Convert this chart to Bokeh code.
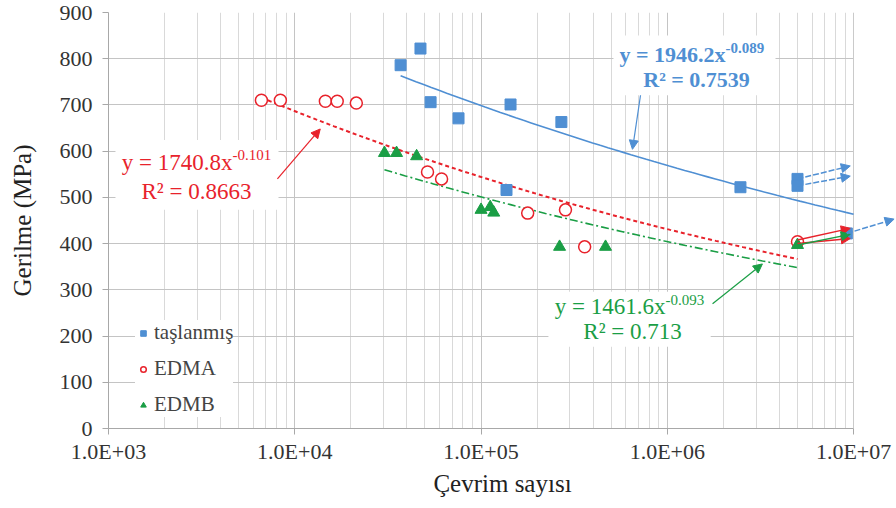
import numpy as np
from bokeh.plotting import figure
from bokeh.models import (FixedTicker, Arrow, NormalHead, Label, BoxAnnotation,
                          Legend, LegendItem, Range1d)
from bokeh.embed import file_html
from bokeh.resources import INLINE

# ---------------- data ----------------
x_ticks = [1e3, 1e4, 1e5, 1e6, 1e7]
x_tick_labels = ["1.0E+03", "1.0E+04", "1.0E+05", "1.0E+06", "1.0E+07"]
y_ticks = [0, 100, 200, 300, 400, 500, 600, 700, 800, 900]

tas_N = [37000, 47300, 53600, 75700, 144000, 270000, 137000, 2470000, 5000000, 5000000, 9200000]
tas_S = [786, 822, 706, 671, 701, 663, 516, 522, 540, 525, 422]

edma_N = [6620, 8370, 14600, 16900, 21400, 51600, 61400, 178000, 284000, 360000, 5000000]
edma_S = [710, 710, 708, 708, 704, 555, 540, 466, 473, 393, 404]

edmb_N = [30300, 35200, 45100, 100000, 112000, 117000, 264000, 466000, 5000000]
edmb_S = [596, 596, 589, 473, 479, 467, 393, 393, 397]

# power-law trend lines (as printed on the chart)
fit_a = [1946.2, 1740.8, 1461.6]
fit_b = [-0.089, -0.101, -0.093]
fit_r2 = ["0.7539", "0.8663", "0.713"]
fit_start = [37000, 6620, 30300]
fit_end = [1e7, 5e6, 5e6]

# run-out arrows (start / end)
run_x0 = [5e6, 5e6, 5e6, 5e6, 5e6, 9.2e6]
run_y0 = [540, 525, 408, 400, 397, 422]
run_x1 = [9.6e6, 9.6e6, 9.6e6, 9.6e6, 9.6e6, 1.65e7]
run_y1 = [568, 546, 433, 411, 420, 453]

BLUE = "#4f8fd3"
RED = "#e8222b"
GREEN = "#1a9e45"
FONT = "Liberation Serif"

X_MIN, X_AXIS_MAX, X_VIEW_MAX = 1e3, 1e7, 1.70e7

p = figure(width=896, height=508, x_axis_type="log", output_backend="svg",
           toolbar_location=None, x_range=Range1d(X_MIN, X_VIEW_MAX), y_range=Range1d(0, 900),
           min_border_left=108, min_border_right=0, min_border_top=12, min_border_bottom=80)
p.outline_line_color = None
p.background_fill_color = "white"

minor = [m * d for d in [1e3, 1e4, 1e5, 1e6] for m in range(2, 10)]
p.xaxis.ticker = FixedTicker(ticks=x_ticks, minor_ticks=minor)
p.xaxis.major_label_overrides = {int(t): l for t, l in zip(x_ticks, x_tick_labels)}
p.xaxis.bounds = (X_MIN, X_AXIS_MAX)
p.yaxis.ticker = FixedTicker(ticks=y_ticks)

for ax in (p.xaxis, p.yaxis):
    ax.axis_line_color = "#a8a8a8"
    ax.major_tick_line_color = "#a8a8a8"
    ax.major_tick_out = 6
    ax.major_tick_in = 0
    ax.minor_tick_out = 0
    ax.minor_tick_in = 0
    ax.major_label_text_font = FONT
    ax.major_label_text_font_size = "22px"
    ax.major_label_text_color = "#333333"
    ax.axis_label_text_font = FONT
    ax.axis_label_text_font_size = "25px"
    ax.axis_label_text_font_style = "normal"
    ax.axis_label_text_color = "#222222"
p.xaxis.axis_label = "Çevrim sayısı"
p.yaxis.axis_label = "Gerilme (MPa)"
p.xaxis.major_label_standoff = 4
p.xaxis.axis_label_standoff = 3
p.yaxis.major_label_standoff = 10
p.yaxis.axis_label_standoff = 21

p.xgrid.grid_line_color = "#c4c4c4"
p.xgrid.minor_grid_line_color = "#d9d9d9"
p.xgrid.bounds = (X_MIN, X_AXIS_MAX)
p.ygrid.grid_line_color = "#c4c4c4"

# hide the part of the view beyond 1E+07 (only the run-out arrow reaches it)
p.add_layout(BoxAnnotation(left=X_AXIS_MAX * 1.004, right=X_VIEW_MAX, bottom=-10, top=1000,
                           fill_color="white", fill_alpha=1, line_color=None, level="underlay"))

# trend lines
styles = [dict(color=BLUE, line_width=1.6, line_dash="solid"),
          dict(color=RED, line_width=2.0, line_dash="4 3"),
          dict(color=GREEN, line_width=1.6, line_dash="8 3 2 3")]
for a, b, s, e, st in zip(fit_a, fit_b, fit_start, fit_end, styles):
    xs = np.logspace(np.log10(s), np.log10(e), 60)
    p.line(xs, a * xs ** b, line_color=st["color"], line_width=st["line_width"],
           line_dash=st["line_dash"])

# white label boxes (hide grid)
box_specs = [
    (5.14e5, 3.81e6, 850, 721),
    (1090, 8180, 624, 473),
    (2.3e5, 1.71e6, 296, 177),
]
for l, r, t, bt in box_specs:
    p.add_layout(BoxAnnotation(left=l, right=r, top=t, bottom=bt, fill_color="white",
                               fill_alpha=1, line_color=None, level="underlay"))

# run-out arrows
run_colors = [BLUE, BLUE, RED, RED, GREEN, BLUE]
run_dash = ["6 2", "6 2", "solid", "solid", "solid", "6 2"]
for x0, y0, x1, y1, c, d in zip(run_x0, run_y0, run_x1, run_y1, run_colors, run_dash):
    p.add_layout(Arrow(x_start=x0, y_start=y0, x_end=x1, y_end=y1, line_color=c,
                       line_width=1.5, line_dash=d,
                       end=NormalHead(size=9, fill_color=c, line_color=c)))

# scatter
r_tas = p.scatter(tas_N, tas_S, marker="square", size=11, fill_color=BLUE, line_color=BLUE)
r_edma = p.scatter(edma_N, edma_S, marker="circle", size=12, fill_color="white",
                   line_color=RED, line_width=1.5)
r_edmb = p.scatter(edmb_N, edmb_S, marker="triangle", size=12, fill_color=GREEN,
                   line_color=GREEN)

# equation labels
eq_cfg = [
    dict(bx=2.055e6, by=809, rx=1.435e6, ry=755, ax0=7.18e5, ay0=721, ax1=6.5e5, ay1=604,
         color=BLUE, style="bold", fs="22px"),
    dict(bx=4633, by=576, rx=2968, ry=512, ax0=8070, ay0=540, ax1=13700, ay1=648,
         color=RED, style="normal", fs="23px"),
    dict(bx=9.79e5, by=263, rx=6.51e5, ry=209, ax0=1.75e6, ay0=270, ax1=3.24e6, ay1=356,
         color=GREEN, style="normal", fs="23px"),
]
for a, b, r2, c in zip(fit_a, fit_b, fit_r2, eq_cfg):
    p.add_layout(Label(x=c["bx"], y=c["by"], text=f"y = {a}x", text_align="right",
                       text_baseline="middle", text_font=FONT, text_font_size=c["fs"],
                       text_font_style=c["style"], text_color=c["color"]))
    p.add_layout(Label(x=c["bx"], y=c["by"], y_offset=7, text=f"{b}", text_align="left",
                       text_baseline="middle", text_font=FONT, text_font_size="15px",
                       text_font_style=c["style"], text_color=c["color"]))
    p.add_layout(Label(x=c["rx"], y=c["ry"], text=f"R² = {r2}", text_align="center",
                       text_baseline="middle", text_font=FONT, text_font_size=c["fs"],
                       text_font_style=c["style"], text_color=c["color"]))
    p.add_layout(Arrow(x_start=c["ax0"], y_start=c["ay0"], x_end=c["ax1"], y_end=c["ay1"],
                       line_color=c["color"], line_width=1.2,
                       end=NormalHead(size=9, fill_color=c["color"], line_color=c["color"])))

legend = Legend(items=[LegendItem(label="taşlanmış", renderers=[r_tas]),
                       LegendItem(label="EDMA", renderers=[r_edma]),
                       LegendItem(label="EDMB", renderers=[r_edmb])],
                location=(27, 11), background_fill_color="white", background_fill_alpha=1,
                border_line_color=None, label_text_font=FONT, label_text_font_size="21px",
                glyph_width=16, glyph_height=14, label_standoff=3, spacing=11, padding=7,
                margin=0)
p.add_layout(legend)

open("out.html", "w").write(file_html(p, INLINE))
